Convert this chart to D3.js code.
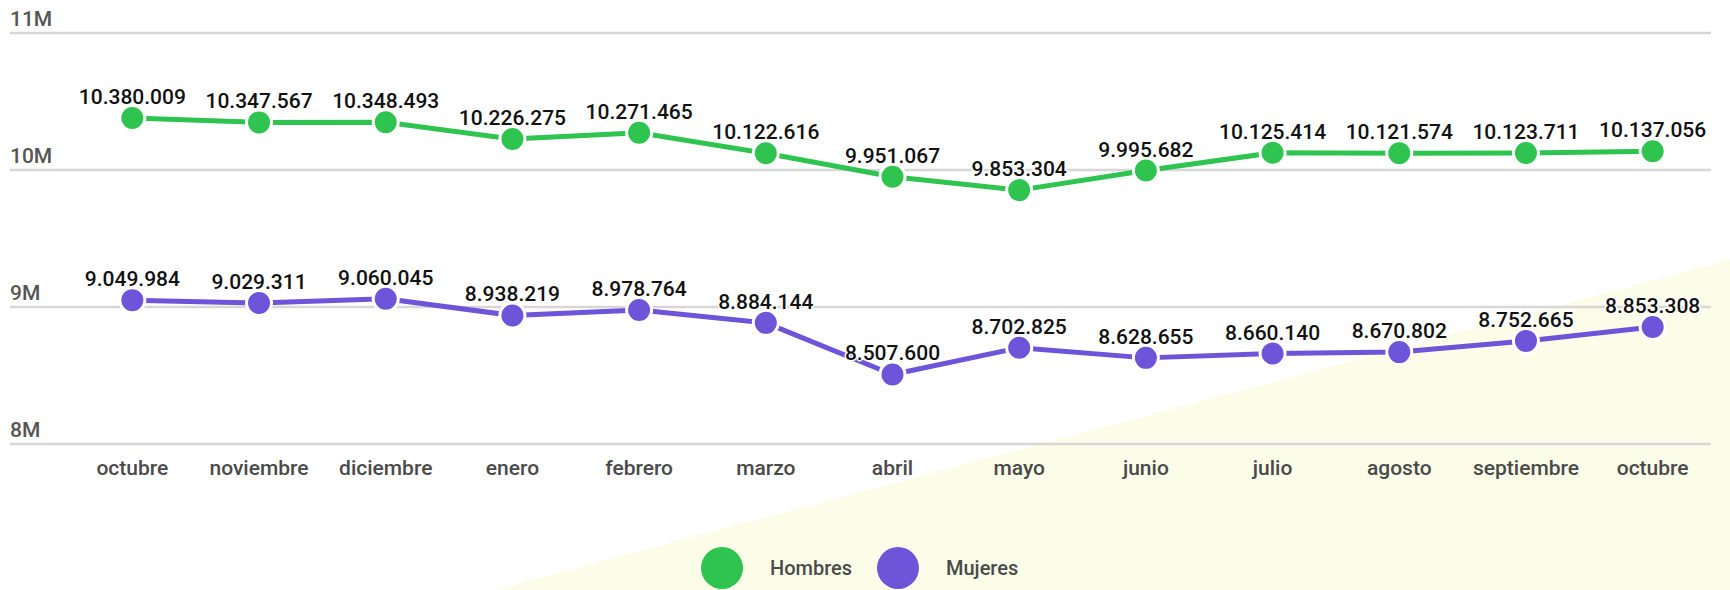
<!DOCTYPE html>
<html>
<head>
<meta charset="utf-8">
<script src="https://cdn.jsdelivr.net/npm/d3@7"></script>
<style>
  html, body { margin: 0; padding: 0; background: #fff; }
  svg { display: block; font-family: Roboto, "Noto Sans", sans-serif; }
</style>
</head>
<body>
<svg id="chart" width="1730" height="590"></svg>
<script>
const months = ['octubre','noviembre','diciembre','enero','febrero','marzo','abril','mayo','junio','julio','agosto','septiembre','octubre'];
const hombres = [10380009, 10347567, 10348493, 10226275, 10271465, 10122616, 9951067, 9853304, 9995682, 10125414, 10121574, 10123711, 10137056];
const mujeres = [9049984, 9029311, 9060045, 8938219, 8978764, 8884144, 8507600, 8702825, 8628655, 8660140, 8670802, 8752665, 8853308];
const yTicks = [8e6, 9e6, 10e6, 11e6];
const seriesNames = ['Hombres', 'Mujeres'];
const seriesColors = ['#2ec44f', '#6c55d8'];

const svg = d3.select('#chart');
const width = +svg.attr('width');
const height = +svg.attr('height');

// pale background wedge in the lower right
svg.append('path')
  .attr('d', `M495,${height} L${width},260 L${width},${height} Z`)
  .attr('fill', '#fbfde8');

const x = d3.scaleBand().domain(d3.range(months.length)).range([69, 1716]);
const y = d3.scaleLinear().domain([8e6, 11e6]).range([444, 33]);
const cx = i => x(i) + x.bandwidth() / 2;

// grid + y labels
const grid = svg.append('g');
grid.selectAll('line').data(yTicks).join('line')
  .attr('x1', 10).attr('x2', 1711)
  .attr('y1', d => y(d)).attr('y2', d => y(d))
  .attr('stroke', '#d7d7d7').attr('stroke-width', 2.5);
grid.selectAll('text').data(yTicks).join('text')
  .attr('x', 10).attr('y', d => y(d) - 7)
  .attr('fill', '#555').attr('font-size', 21).attr('font-weight', 500)
  .text(d => (d / 1e6) + 'M');

// x labels
svg.append('g').selectAll('text').data(months).join('text')
  .attr('x', (d, i) => cx(i)).attr('y', 475)
  .attr('text-anchor', 'middle')
  .attr('fill', '#4a4a4a').attr('font-size', 21).attr('font-weight', 500)
  .text(d => d);

const fmt = v => d3.format(',')(v).replace(/,/g, '.');
const line = d3.line().x((d, i) => cx(i)).y(d => y(d));

[hombres, mujeres].forEach((vals, s) => {
  const g = svg.append('g');
  g.append('path').datum(vals)
    .attr('d', line)
    .attr('fill', 'none')
    .attr('stroke', seriesColors[s]).attr('stroke-width', 5)
    .attr('stroke-linejoin', 'round');
  g.selectAll('circle').data(vals).join('circle')
    .attr('cx', (d, i) => cx(i)).attr('cy', d => y(d))
    .attr('r', 12.5)
    .attr('fill', seriesColors[s])
    .attr('stroke', '#fff').attr('stroke-width', 3);
  g.selectAll('text').data(vals).join('text')
    .attr('x', (d, i) => cx(i)).attr('y', d => y(d) - 14)
    .attr('text-anchor', 'middle')
    .attr('font-size', 21).attr('font-weight', 500).attr('fill', '#111')
    .attr('stroke', '#fff').attr('stroke-width', 3).attr('paint-order', 'stroke')
    .attr('stroke-linejoin', 'round')
    .text(d => fmt(d));
});

// legend
const legX = [722, 898];
const leg = svg.append('g').selectAll('g').data(seriesNames).join('g')
  .attr('transform', (d, i) => `translate(${legX[i]},568)`);
leg.append('circle').attr('r', 21).attr('fill', (d, i) => seriesColors[i]);
leg.append('text').attr('x', 48).attr('y', 7)
  .attr('font-size', 20).attr('font-weight', 500).attr('fill', '#4a4a4a')
  .text(d => d);
</script>
</body>
</html>
